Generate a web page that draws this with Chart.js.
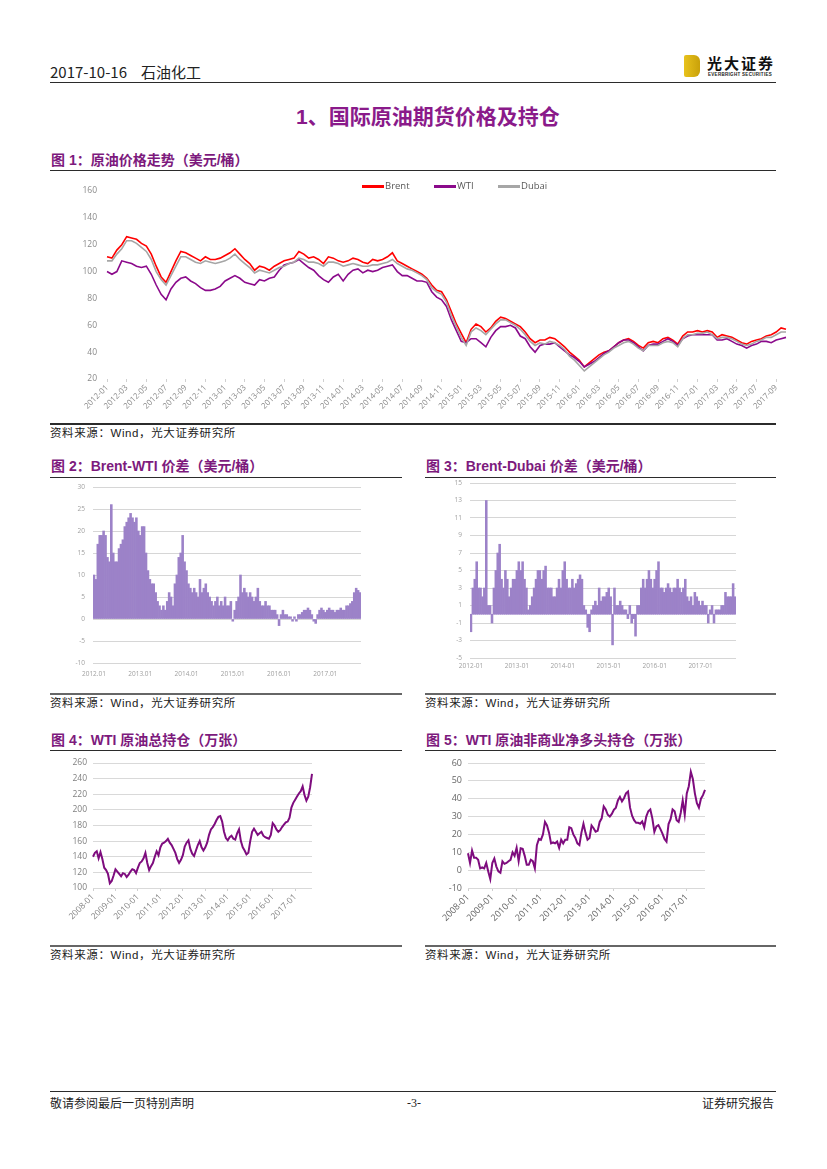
<!DOCTYPE html>
<html>
<head>
<meta charset="utf-8">
<script src="https://cdn.jsdelivr.net/npm/chart.js@4.4.0/dist/chart.umd.min.js"></script>
<style>
  body { margin: 0; width: 827px; height: 1169px; background: #fff; position: relative; overflow: hidden;
         font-family: "Liberation Sans", "Noto Sans CJK SC", sans-serif; }
  .abs { position: absolute; white-space: nowrap; }
  .rule { position: absolute; height: 0; border-top: 1.5px solid #2b2b2b; }
  .ftitle { position: absolute; white-space: nowrap; font-weight: bold; color: #7d1a7d; font-size: 14px;
            font-family: "Liberation Sans", "Noto Sans CJK SC", sans-serif; line-height: 18px; }
  .src { position: absolute; white-space: nowrap; font-size: 11.5px; color: #222; letter-spacing: 0.6px;
         font-family: "Liberation Sans", "Noto Sans CJK SC", sans-serif; line-height: 14px; }
  .box { position: absolute; }
  .lg { position: absolute; font-size: 9.5px; color: #595959; font-family: "Open Sans", sans-serif; line-height: 12px; }
  .sw { position: absolute; height: 2.5px; width: 22px; }
</style>
</head>
<body>

<!-- 页眉 -->
<div class="abs" style="left:50px;top:62px;font-size:15px;color:#222;font-family:'Noto Sans CJK SC';line-height:20px">2017-10-16<span style="margin-left:14px">石油化工</span></div>
<div class="rule" style="left:50px;top:82px;width:726px;border-top-width:1.5px"></div>
<div class="abs" style="left:684px;top:55px;width:16px;height:22px;background:linear-gradient(90deg,#e8c21c,#c9a10a);border-radius:2px 6px 6px 2px"></div>
<div class="abs" style="left:707px;top:54px;font-size:15px;font-weight:bold;letter-spacing:2px;color:#111;font-family:'Noto Sans CJK SC';line-height:18px">光大证券</div>
<div class="abs" style="left:708px;top:72px;font-size:4.5px;font-weight:bold;color:#222;letter-spacing:0.3px;line-height:6px">EVERBRIGHT SECURITIES</div>

<!-- 章节标题 -->
<div class="abs" style="left:296px;top:104px;font-size:21px;font-weight:bold;color:#8a1a8a;font-family:'Liberation Sans','Noto Sans CJK SC';line-height:26px">1、国际原油期货价格及持仓</div>

<!-- 图 1 -->
<div class="ftitle" style="left:51px;top:151px">图 1：原油价格走势（美元/桶）</div>
<div class="rule" style="left:50px;top:170px;width:726px"></div>
<div class="box" style="left:50px;top:183px;width:740px;height:240px"><canvas id="c1"></canvas></div>
<div class="sw" style="left:362px;top:185px;background:#ff0000"></div><div class="lg" style="left:385px;top:180px">Brent</div>
<div class="sw" style="left:434px;top:185px;background:#8b0a8b"></div><div class="lg" style="left:457px;top:180px">WTI</div>
<div class="sw" style="left:498px;top:185px;background:#a6a6a6"></div><div class="lg" style="left:521px;top:180px">Dubai</div>
<div class="rule" style="left:50px;top:423px;width:726px;border-top-width:2px"></div>
<div class="src" style="left:50px;top:426px">资料来源：Wind，光大证券研究所</div>

<!-- 图 2 / 图 3 -->
<div class="ftitle" style="left:51px;top:457px">图 2：Brent-WTI 价差（美元/桶）</div>
<div class="rule" style="left:50px;top:477px;width:352px"></div>
<div class="box" style="left:50px;top:480px;width:330px;height:205px"><canvas id="c2"></canvas></div>
<div class="rule" style="left:50px;top:693px;width:352px;border-top-width:2px;border-color:#666"></div>
<div class="src" style="left:50px;top:696px">资料来源：Wind，光大证券研究所</div>

<div class="ftitle" style="left:426px;top:457px">图 3：Brent-Dubai 价差（美元/桶）</div>
<div class="rule" style="left:425px;top:477px;width:351px"></div>
<div class="box" style="left:425px;top:476px;width:330px;height:205px"><canvas id="c3"></canvas></div>
<div class="rule" style="left:425px;top:693px;width:351px;border-top-width:2px;border-color:#666"></div>
<div class="src" style="left:425px;top:696px">资料来源：Wind，光大证券研究所</div>

<!-- 图 4 / 图 5 -->
<div class="ftitle" style="left:51px;top:731px">图 4：WTI 原油总持仓（万张）</div>
<div class="rule" style="left:50px;top:750px;width:352px"></div>
<div class="box" style="left:50px;top:755px;width:330px;height:185px"><canvas id="c4"></canvas></div>
<div class="rule" style="left:50px;top:945px;width:352px;border-top-width:2px;border-color:#666"></div>
<div class="src" style="left:50px;top:948px">资料来源：Wind，光大证券研究所</div>

<div class="ftitle" style="left:426px;top:731px">图 5：WTI 原油非商业净多头持仓（万张）</div>
<div class="rule" style="left:425px;top:750px;width:351px"></div>
<div class="box" style="left:425px;top:755px;width:330px;height:185px"><canvas id="c5"></canvas></div>
<div class="rule" style="left:425px;top:945px;width:351px;border-top-width:2px;border-color:#666"></div>
<div class="src" style="left:425px;top:948px">资料来源：Wind，光大证券研究所</div>

<!-- 页脚 -->
<div class="rule" style="left:50px;top:1091px;width:726px;border-top-width:1px"></div>
<div class="abs" style="left:50px;top:1095px;font-size:12px;color:#222;font-family:'Noto Sans CJK SC';line-height:16px">敬请参阅最后一页特别声明</div>
<div class="abs" style="left:407px;top:1095px;font-size:12px;color:#222;font-family:'Liberation Serif';line-height:16px">-3-</div>
<div class="abs" style="left:702px;top:1095px;font-size:12px;color:#222;font-family:'Noto Sans CJK SC';line-height:16px">证券研究报告</div>

<script>
/* ---------- 数据 ---------- */

// 图1：半月度，2012-01 ~ 2017-10
const fig1Dates = [];
for (let y = 2012; y <= 2017; y++) {
  for (let m = 1; m <= 12; m++) {
    const mm = String(m).padStart(2, "0");
    fig1Dates.push(`${y}-${mm}-01`, `${y}-${mm}-16`);
  }
}
fig1Dates.length = 139;

const fig1Ticks = ["2012-01","2012-03","2012-05","2012-07","2012-09","2012-11",
  "2013-01","2013-03","2013-05","2013-07","2013-09","2013-11",
  "2014-01","2014-03","2014-05","2014-07","2014-09","2014-11",
  "2015-01","2015-03","2015-05","2015-07","2015-09","2015-11",
  "2016-01","2016-03","2016-05","2016-07","2016-09","2016-11",
  "2017-01","2017-03","2017-05","2017-07","2017-09"];

const brent = [
  111,110,116,120,126,125,124,121,119,113,
  104,96,92,100,108,115,114,112,110,108,
  111,109,109,110,112,114,117,113,109,106,
  101,104,103,101,104,106,108,109,110,115,
  113,110,111,109,106,111,110,108,107,108,
  110,109,107,106,109,108,109,111,114,108,
  106,104,102,100,98,95,90,86,85,79,
  70,61,54,47,57,61,59,55,58,63,
  66,65,63,61,59,55,50,47,49,49,
  51,50,47,44,40,37,34,29,32,35,
  38,40,41,44,47,49,50,48,45,43,
  47,48,47,50,51,49,46,52,55,55,
  56,55,56,55,51,53,52,51,49,47,
  46,48,49,50,52,53,55,58,57];

const wti = [
  100,98,100,108,107,106,104,103,104,98,
  90,83,79,87,92,95,96,93,91,88,
  86,86,87,89,93,95,97,95,92,91,
  90,94,93,95,96,101,105,106,107,109,
  106,103,101,97,94,92,96,98,93,98,
  101,102,99,101,100,101,103,104,105,100,
  97,97,95,93,93,92,85,81,79,74,
  64,56,48,47,50,50,47,44,51,56,
  59,59,60,58,52,50,44,40,45,46,
  46,47,44,41,38,36,33,29,31,33,
  36,39,41,44,47,49,49,47,44,41,
  45,46,46,48,50,48,45,50,52,53,
  53,53,53,53,49,49,50,48,46,45,
  43,45,46,48,48,47,49,50,51];

const dubai = [
  108,108,113,117,123,123,121,118,115,109,
  100,94,90,97,104,111,111,109,107,106,
  108,107,106,107,108,110,113,109,106,103,
  99,101,100,99,101,103,104,106,107,110,
  109,107,107,106,104,107,107,106,104,105,
  106,105,104,104,105,105,106,107,109,106,
  104,102,101,99,97,94,88,85,83,77,
  67,59,51,45,55,58,56,53,57,61,
  64,64,62,60,57,53,48,45,47,46,
  48,47,45,42,37,34,30,26,29,32,
  35,38,40,43,45,47,48,46,43,41,
  45,45,45,47,48,47,44,50,53,53,
  54,54,55,53,50,51,51,50,48,46,
  45,46,48,49,51,51,53,55,55];

// 图2/图3：价差，半月度
const fig2Ticks = ["2012.01","2013.01","2014.01","2015.01","2016.01","2017.01"];
const fig3Ticks = ["2012-01","2013-01","2014-01","2015-01","2016-01","2017-01"];

const spreadBW = [
  10,9,17,19,19,20,19,14,13,26,
  15,13,13,16,17,18,21,22,23,24,
  23,22,23,20,19,21,21,15,11,9,
  8,8,6,4,3,2,3,2,4,6,
  5,3,8,10,14,15,19,13,11,8,
  7,6,7,6,5,9,6,7,8,6,
  5,4,3,4,5,3,4,3,5,3,
  3,4,-0.5,2,4,5,10,6,7,6,
  5,6,5,4,5,7,4,3,3,4,
  3,3,2,2,2,1,-1.5,1,2,1,
  1,0.5,0.5,-0.5,0.5,-0.5,1,1,1.5,2,
  2,2.5,2,1,-0.5,-1,1,2,2.5,2,
  1.5,2,2.5,2,2,1.5,2,2,2.5,2,
  2,3,3,3.5,4,6,7,6.5,6];

const spreadBD = [
  -2,3,4,6,3,3,2,3,13,1,
  1,-1,3,5,7,8,4,3,5,4,
  2,3,4,4,5,6,5,6,4,3,
  0.5,1,2,3,4,5,5,4,5,5.5,
  3,3,3,2,2,3,4,3,5,6,
  4,3,3,4,3,3.5,4,4.5,4,1,
  0.5,-1.5,-2,0.5,1,1.5,1,3,1.5,2,
  2,2.5,3,2,-3.5,3,1,1,1.5,1,
  0.5,0.5,-0.5,1,-1,-0.5,-2.5,1,1,3,
  4,3,4,5,4,3,4,5,6,3,
  3,2.5,3,3.5,3,2.5,3,3,4,3,
  2.5,3,4,2,1.5,2,1,2.5,2,1.5,
  1,1.5,1,1,-1,0.5,1,-1,0.5,0.5,
  0.5,1,1,2.5,2,2,2,3.5,2];

// 图4/图5：月度，2008-01 ~ 2017-10
const fig45Months = [];
for (let y = 2008; y <= 2017; y++) {
  for (let m = 1; m <= 12; m++) fig45Months.push(`${y}-${String(m).padStart(2, "0")}`);
}
fig45Months.length = 118;
const fig45Ticks = ["2008-01","2009-01","2010-01","2011-01","2012-01",
  "2013-01","2014-01","2015-01","2016-01","2017-01"];

const wtiOI = [
  140,145,147,138,146,137,126,123,118,106,109,116,
  124,121,118,115,119,118,114,117,121,124,123,119,
  126,132,134,138,145,132,123,128,132,140,147,142,
  152,157,158,160,163,158,155,150,145,137,132,136,
  142,153,158,161,150,144,141,148,155,160,152,148,
  152,158,168,175,178,182,187,191,192,185,172,164,
  161,165,167,163,162,170,175,160,152,148,143,145,
  160,172,176,172,168,170,172,167,165,164,163,168,
  183,180,175,172,174,178,181,184,185,190,203,209,
  213,217,221,224,230,219,212,217,229,246];

const wtiNetLong = [
  9.5,4,11,7,7,5.8,1,1.5,1,4,-0.7,-5,
  4,6.5,2,-0.7,-1.5,4.9,3.5,4,5,5.8,10,8,
  12.5,5,12.3,12,8,3,3,5.8,5,1,14,17.5,
  17,20,27,25,21,15,15.5,15,16,12.5,17,15,
  17,17,24,23.5,20,18,15,14,21,26,21,17,
  18,25,23.5,21.5,22,27,29,35.7,34,31,30,31.5,
  33.8,35,39,41,38.5,40.3,43,44,35,30.5,28,26.5,
  26.5,26,27.3,24,30,33,34,29,21.5,24.5,25.2,23,
  20.5,17.5,16,25.8,28.5,34,33,28,27,32,39,31,
  43,47,55,51,43,37.5,35,40,42,45];

/* ---------- 공통 ---------- */
Chart.defaults.animation = false;
Chart.defaults.font.family = "'Open Sans', sans-serif";

function everyN(ticks, n) {
  return (value, index) => (index % n === 0 ? (ticks[index / n] || "") : "");
}
function fixY(w) {
  return s => { s.width = w; s.paddingTop = 0; s.paddingBottom = 0; };
}
function fixX(h) {
  return s => { s.height = h; s.paddingLeft = 0; s.paddingRight = 0; };
}
const noLegend = { legend: { display: false }, tooltip: { enabled: false } };

/* 图1 */
new Chart(document.getElementById("c1"), {
  type: "line",
  data: {
    labels: fig1Dates,
    datasets: [
      { label: "Brent", data: brent, borderColor: "#ff0000", borderWidth: 1.6, pointRadius: 0, order: 2 },
      { label: "WTI", data: wti, borderColor: "#8b0a8b", borderWidth: 1.6, pointRadius: 0, order: 1 },
      { label: "Dubai", data: dubai, borderColor: "#a6a6a6", borderWidth: 1.6, pointRadius: 0, order: 0 }
    ]
  },
  options: {
    responsive: true, maintainAspectRatio: false,
    layout: { padding: { top: 8, right: 4, left: 0, bottom: 0 } },
    plugins: noLegend,
    scales: {
      x: {
        grid: { drawOnChartArea: false, tickLength: 3, color: c => (c.index % 4 === 0 ? "#d0d0d0" : "rgba(0,0,0,0)") },
        border: { display: false },
        ticks: { autoSkip: false, maxRotation: 45, minRotation: 45, padding: 1, color: "#8a8a8a",
                 font: { size: 8 }, callback: everyN(fig1Ticks, 4) },
        afterFit: fixX(44)
      },
      y: {
        min: 20, max: 160,
        grid: { display: false, drawTicks: false },
        border: { display: false },
        ticks: { stepSize: 20, padding: 10, color: "#8a8a8a", font: { size: 8.5 } },
        afterFit: fixY(57)
      }
    }
  }
});

/* 图2/图3 柱状 */
function spreadChart(id, data, ticks, yMin, yMax, step, yW, padTop, padRight, xH, xPad) {
  return new Chart(document.getElementById(id), {
    type: "bar",
    data: { labels: fig1Dates, datasets: [{ data, backgroundColor: "#9c82c8", borderWidth: 0,
                                            barPercentage: 1, categoryPercentage: 1 }] },
    options: {
      responsive: true, maintainAspectRatio: false,
      layout: { padding: { top: padTop, right: padRight, left: 0, bottom: 0 } },
      plugins: noLegend,
      scales: {
        x: {
          grid: { display: false, drawTicks: false },
          border: { display: false },
          ticks: { autoSkip: false, maxRotation: 0, minRotation: 0, padding: xPad, color: "#a0a0a0",
                   font: { size: 6.5 }, callback: everyN(ticks, 24) },
          afterFit: fixX(xH)
        },
        y: {
          min: yMin, max: yMax,
          grid: { color: "#d6d6d6", lineWidth: 1, drawTicks: false },
          border: { display: false },
          ticks: { stepSize: step, padding: 8, color: "#a0a0a0", font: { size: 6.5 } },
          afterFit: fixY(yW)
        }
      }
    }
  });
}
spreadChart("c2", spreadBW, fig2Ticks, -10, 30, 5, 43, 7, 19, 22, 7);
spreadChart("c3", spreadBD, fig3Ticks, -5, 15, 2, 45, 7, 19, 23, 4);

/* 图4/图5 折线 */
function posChart(id, data, yMin, yMax, step, fontSize, tickColor, padRight) {
  return new Chart(document.getElementById(id), {
    type: "line",
    data: { labels: fig45Months, datasets: [{ data, borderColor: "#7e0c7e", borderWidth: 2, pointRadius: 0 }] },
    options: {
      responsive: true, maintainAspectRatio: false,
      layout: { padding: { top: 8, right: padRight, left: 0, bottom: 0 } },
      plugins: noLegend,
      scales: {
        x: {
          grid: { drawOnChartArea: false, tickLength: 3, color: c => (c.index % 12 === 0 ? "#cfcfcf" : "rgba(0,0,0,0)") },
          border: { display: false },
          ticks: { autoSkip: false, maxRotation: 45, minRotation: 45, padding: 1, color: tickColor,
                   font: { size: fontSize }, callback: everyN(fig45Ticks, 12) },
          afterFit: fixX(52)
        },
        y: {
          min: yMin, max: yMax,
          grid: { color: "#d9d9d9", lineWidth: 1, drawTicks: false },
          border: { display: false },
          ticks: { stepSize: step, padding: 6, color: tickColor, font: { size: fontSize } },
          afterFit: fixY(43)
        }
      }
    }
  });
}
posChart("c4", wtiOI, 100, 260, 20, 8.5, "#808080", 68);
posChart("c5", wtiNetLong, -10, 60, 10, 9, "#666666", 50);
</script>
</body>
</html>
